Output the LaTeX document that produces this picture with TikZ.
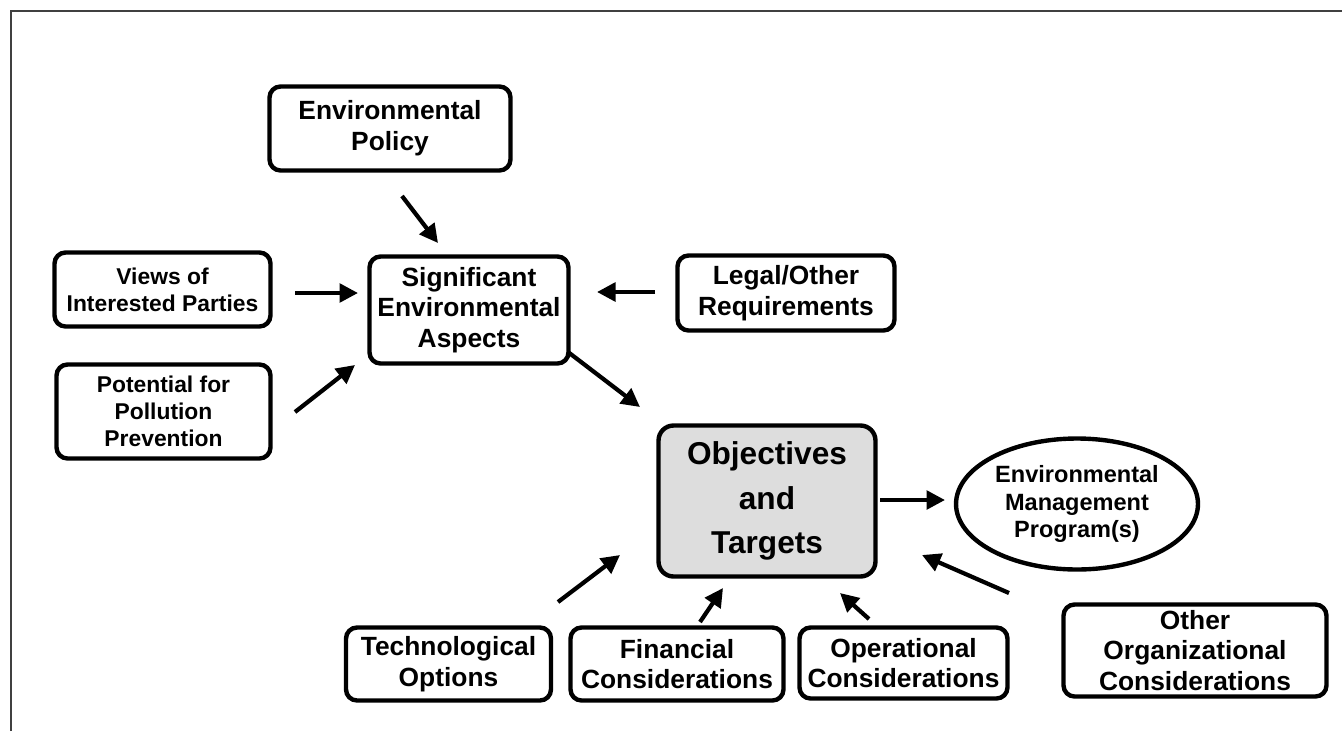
\documentclass[tikz,border=0pt]{standalone}
\usepackage{fontspec}
\setmainfont{Liberation Sans}
\usetikzlibrary{arrows.meta,shapes.geometric}
\definecolor{objgray}{HTML}{DDDDDD}
\definecolor{framegray}{HTML}{404040}

\tikzset{
  card/.style={draw, line width=2.5pt, rounded corners=0.22cm, align=center,
    inner sep=0pt, font=\bfseries\fontsize{15}{17.5}\selectfont},
  smallcard/.style={card, font=\bfseries\fontsize{13}{15.5}\selectfont},
  feed/.style={line width=2.4pt, -{Triangle[length=0.37cm,width=0.37cm]}},
}

\begin{document}
\begin{tikzpicture}[x=0.02cm, y=-0.02cm]
    \useasboundingbox (0,0) rectangle (1342,731);

    %% frame
    \draw[framegray, line width=1.2pt] (11,731) -- (11,11) -- (1342,11);

    %% inputs to the aspects
    \node[card, minimum width=4.82cm, minimum height=1.68cm] (policy) at (390,128.5) {Environmental\\Policy};
    \node[smallcard, minimum width=4.32cm, minimum height=1.48cm] (views) at (162.5,289.5) {Views of\\Interested Parties};
    \node[card, minimum width=3.98cm, minimum height=2.14cm] (aspects) at (469,310) {Significant\\Environmental\\Aspects};
    \node[card, minimum width=4.34cm, minimum height=1.50cm] (legal) at (786,293) {Legal/Other\\Requirements};
    \node[smallcard, minimum width=4.28cm, minimum height=1.88cm] (pollution) at (163.5,411.5) {Potential for\\Pollution\\Prevention};

    %% objectives and the program
    \node[card, fill=objgray, rounded corners=0.3cm, minimum width=4.34cm, minimum height=3.02cm,
      font=\bfseries\fontsize{18}{25.5}\selectfont] (objectives) at (767,501) {Objectives\\and\\Targets};
    \node[ellipse, draw, line width=2.5pt, align=center, inner sep=0pt, minimum width=4.84cm, minimum height=2.62cm,
      font=\bfseries\fontsize{13.4}{15.6}\selectfont] (program) at (1077,504) {Environmental\\Management\\Program(s)};

    %% considerations
    \node[card, minimum width=4.10cm, minimum height=1.46cm] (techno) at (448.5,664) {Technological\\Options};
    \node[card, minimum width=4.26cm, minimum height=1.46cm] (finance) at (677,664) {Financial\\Considerations};
    \node[card, minimum width=4.16cm, minimum height=1.42cm] (operation) at (903.5,663) {Operational\\Considerations};
    \node[card, minimum width=5.26cm, minimum height=1.84cm] (organisation) at (1195,650.5) {Other\\Organizational\\Considerations};

    %% arrow ends
    \coordinate (policy out) at (402,196);     \coordinate (aspects top) at (438,243);
    \coordinate (views out) at (295,293);      \coordinate (aspects left) at (358,293);
    \coordinate (pollution out) at (295,412);  \coordinate (aspects low) at (355,365);
    \coordinate (legal out) at (655,292);      \coordinate (aspects right) at (597,292);
    \coordinate (aspects out) at (568,352);    \coordinate (objectives top) at (640,407);
    \coordinate (objectives out) at (880,500); \coordinate (program in) at (945,500);
    \coordinate (techno out) at (558,602);     \coordinate (objectives sw) at (620,555);
    \coordinate (finance out) at (700,622);    \coordinate (objectives s) at (723,588);
    \coordinate (operation out) at (869,619);  \coordinate (objectives se) at (840,593);
    \coordinate (organisation out) at (1009,593); \coordinate (objectives e) at (922,555);

    %% arrows
    \draw[feed] (policy out) -- (aspects top);
    \draw[feed] (views out) -- (aspects left);
    \draw[feed] (pollution out) -- (aspects low);
    \draw[feed] (legal out) -- (aspects right);
    \draw[feed] (aspects out) -- (objectives top);
    \draw[feed] (objectives out) -- (program in);
    \draw[feed] (techno out) -- (objectives sw);
    \draw[feed] (finance out) -- (objectives s);
    \draw[feed] (operation out) -- (objectives se);
    \draw[feed] (organisation out) -- (objectives e);
\end{tikzpicture}
\end{document}
